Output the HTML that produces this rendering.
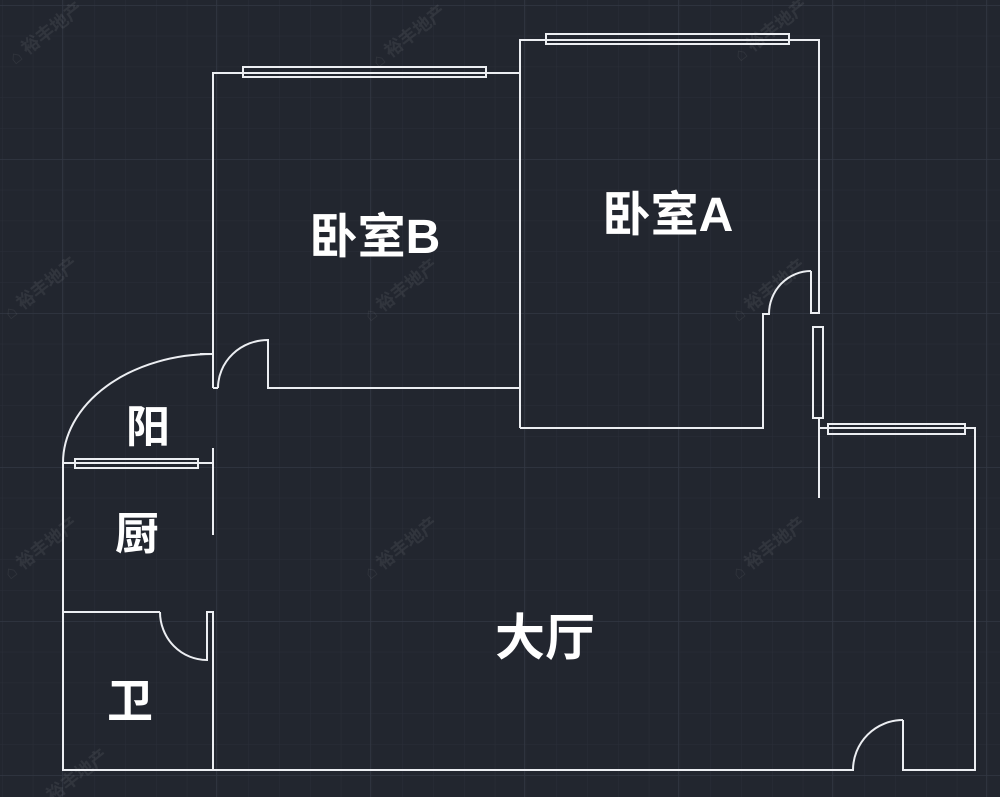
<!DOCTYPE html>
<html><head><meta charset="utf-8"><style>
html,body{margin:0;padding:0;background:#22262f;}
svg{display:block}
text{font-family:"Liberation Sans","Noto Sans CJK SC",sans-serif;font-weight:bold;fill:#ffffff}
.wm{font-size:18px;fill:#ffffff;fill-opacity:0.07;font-weight:bold}
</style></head><body>
<svg width="1000" height="797" viewBox="0 0 1000 797" xmlns="http://www.w3.org/2000/svg">
<defs>
<pattern id="minor" x="2" y="5" width="30.8" height="30.8" patternUnits="userSpaceOnUse">
<path d="M0 0H30.8M0 0V30.8" stroke="#2a2e38" stroke-width="1" fill="none"/>
</pattern>
<pattern id="major" x="62" y="5" width="154" height="154" patternUnits="userSpaceOnUse">
<path d="M0 0H154M0 0V154" stroke="#323743" stroke-width="1.5" fill="none"/>
</pattern>
</defs>
<rect width="1000" height="797" fill="#22262f"/>
<rect width="1000" height="797" fill="url(#minor)"/>
<rect width="1000" height="797" fill="url(#major)"/>

<g class="wms">
<text class="wm" transform="translate(15,65) rotate(-38)">⌂ 裕丰地产</text>
<text class="wm" transform="translate(378,68) rotate(-38)">⌂ 裕丰地产</text>
<text class="wm" transform="translate(740,62) rotate(-38)">⌂ 裕丰地产</text>
<text class="wm" transform="translate(370,322) rotate(-38)">⌂ 裕丰地产</text>
<text class="wm" transform="translate(738,322) rotate(-38)">⌂ 裕丰地产</text>
<text class="wm" transform="translate(370,580) rotate(-38)">⌂ 裕丰地产</text>
<text class="wm" transform="translate(738,580) rotate(-38)">⌂ 裕丰地产</text>
<text class="wm" transform="translate(10,320) rotate(-38)">⌂ 裕丰地产</text>
<text class="wm" transform="translate(10,580) rotate(-38)">⌂ 裕丰地产</text>
<text class="wm" transform="translate(40,812) rotate(-38)">⌂ 裕丰地产</text>
</g>

<g stroke="#eceef2" stroke-width="2" fill="none">
<path d="M213 388V73H520"/>
<rect x="243" y="67" width="243" height="10"/>
<path d="M213 388H218"/>
<path d="M218 388A50 48 0 0 1 268 340V388H520"/>
<path d="M520 428V40H819V313H811V271"/>
<rect x="546" y="34" width="243" height="10"/>
<path d="M811 271A42 43 0 0 0 769 314H763V428H520"/>
<rect x="813" y="327" width="10" height="91"/>
<path d="M819 418V498"/>
<path d="M819 428H975V770H903V720"/>
<rect x="828" y="424" width="137" height="10"/>
<path d="M903 720A50 50 0 0 0 853 770H63V463"/>
<path d="M200 354H213"/>
<path d="M213 354A150 109 0 0 0 63 463H213"/>
<rect x="75" y="459" width="123" height="9"/>
<path d="M213 448V535"/>
<path d="M63 612H160"/>
<path d="M160 612A47 48 0 0 0 207 660V612H213V770"/>
</g>

<text x="375" y="253" font-size="48" text-anchor="middle">卧室B</text>
<text x="668" y="231" font-size="48" text-anchor="middle">卧室A</text>
<text x="148" y="442" font-size="44" text-anchor="middle">阳</text>
<text x="137" y="549" font-size="44" text-anchor="middle">厨</text>
<text x="130" y="717" font-size="46" text-anchor="middle">卫</text>
<text x="545" y="655" font-size="50" text-anchor="middle">大厅</text>
</svg>
</body></html>
